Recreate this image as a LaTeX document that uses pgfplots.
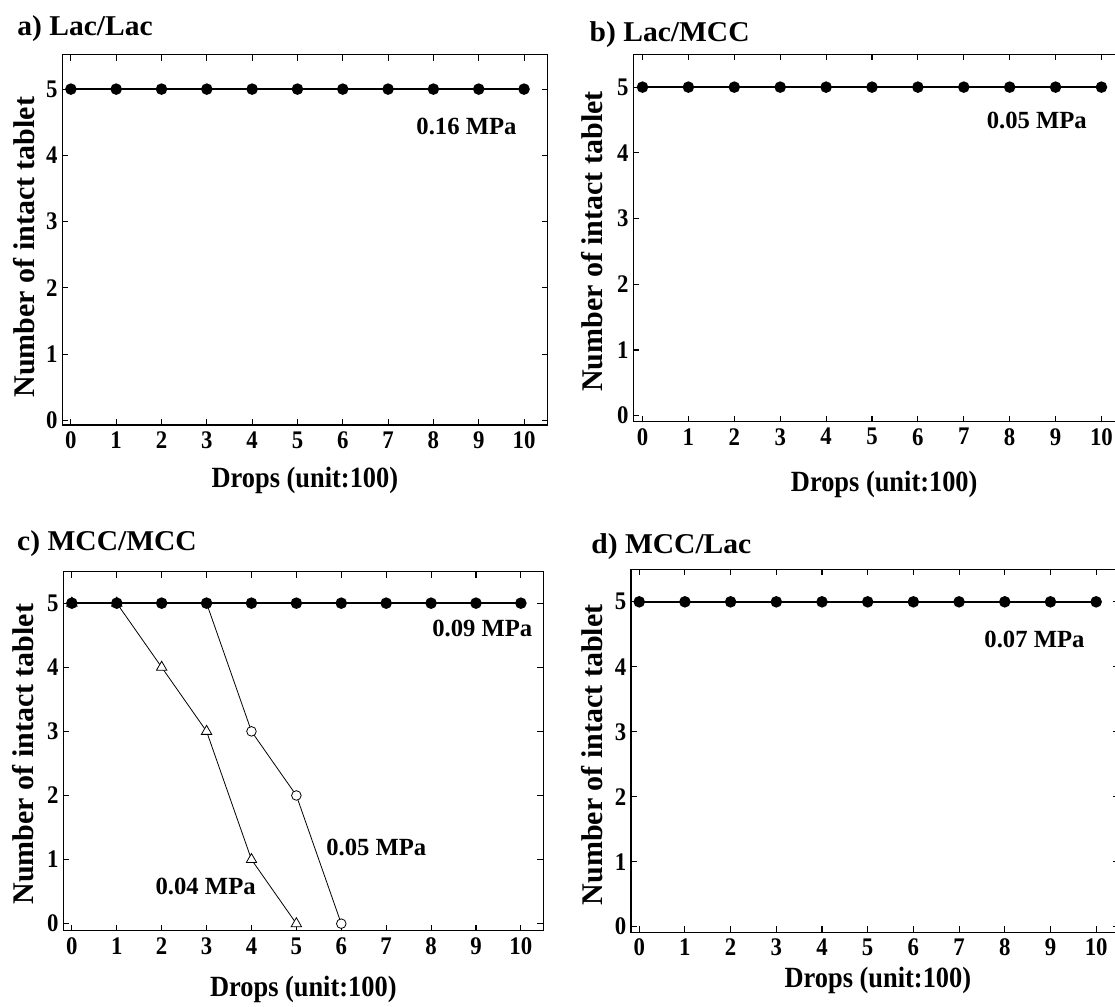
\documentclass[border=0pt]{standalone}
\usepackage{fontspec}
\setmainfont{Liberation Serif}
\newfontfamily\cfont{Liberation Serif}[FakeStretch=0.9]
\newfontfamily\tfont{Liberation Serif}[FakeStretch=1.03]
\usepackage{pgfplots}
\pgfplotsset{compat=1.18}

\pgfplotsset{
  panel/.style={
    scale only axis,
    axis line style={line width=0.9pt},
    every tick/.style={black, line width=0.8pt},
    tick align=inside,
    major tick length=4.5pt,
    xtick={0,1,...,10},
    ytick={0,1,...,5},
    /pgf/number format/assume math mode=true,
    ticklabel style={font=\cfont\bfseries\fontsize{19}{20}\selectfont},
    xticklabel style={yshift=-1.5pt},
    xlabel={Drops (unit:100)},
    ylabel={Number of intact tablet},
    xlabel style={font=\cfont\bfseries\fontsize{22}{24}\selectfont, anchor=base},
    ylabel style={font=\bfseries\fontsize{22.5}{24}\selectfont, anchor=center},
    clip=false,
  },
  fdot/.style={black, line width=1.2pt, mark=*, mark size=3.7pt, mark options={solid, fill=black}},
  odot/.style={black, line width=0.6pt, mark=*, mark size=3.6pt, mark options={solid, fill=white, line width=0.6pt}},
  otri/.style={black, line width=0.6pt, mark=triangle*, mark size=4.5pt, mark options={solid, fill=white, line width=0.6pt}},
}
\tikzset{ann/.style={font=\bfseries\fontsize{18.5}{20}\selectfont},
  ttl/.style={anchor=base west, font=\tfont\bfseries\fontsize{21.5}{23}\selectfont}}

\begin{document}
\begin{tikzpicture}
% panel a
\begin{axis}[panel, at={(46.7pt,-41.0pt)}, anchor=north west,
  width=364pt, height=277.7pt,
  xmin=-0.19, xmax=10.52, ymin=-0.07, ymax=5.52,
  xlabel style={at={(axis description cs:0.5,-0.170)}},
  ylabel style={at={(axis description cs:-0.078,0.48)}}]
\addplot[fdot] coordinates {(0,5)(1,5)(2,5)(3,5)(4,5)(5,5)(6,5)(7,5)(8,5)(9,5)(10,5)};
\node[ann] at (axis cs:8.73,4.43) {0.16 MPa};
\end{axis}
% panel b
\begin{axis}[panel, at={(475pt,-40.7pt)}, anchor=north west,
  width=369pt, height=275.5pt,
  xmin=-0.2, xmax=10.52, ymin=-0.09, ymax=5.5,
  xlabel style={at={(axis description cs:0.51,-0.19)}},
  ylabel style={at={(axis description cs:-0.083,0.49)}}]
\addplot[fdot] coordinates {(0,5)(1,5)(2,5)(3,5)(4,5)(5,5)(6,5)(7,5)(8,5)(9,5)(10,5)};
\node[ann] at (axis cs:8.59,4.49) {0.05 MPa};
\end{axis}
% panel c
\begin{axis}[panel, at={(47.5pt,-428.8pt)}, anchor=north west,
  width=360pt, height=269.25pt,
  xmin=-0.19, xmax=10.5, ymin=-0.11, ymax=5.49,
  xlabel style={at={(axis description cs:0.5,-0.184)}},
  ylabel style={at={(axis description cs:-0.083,0.492)}}]
\addplot[otri] coordinates {(0,5)(1,5)(2,4)(3,3)(4,1)(5,0)};
\addplot[odot] coordinates {(0,5)(1,5)(2,5)(3,5)(4,3)(5,2)(6,0)};
\addplot[fdot] coordinates {(0,5)(1,5)(2,5)(3,5)(4,5)(5,5)(6,5)(7,5)(8,5)(9,5)(10,5)};
\node[ann] at (axis cs:9.14,4.6) {0.09 MPa};
\node[ann] at (axis cs:6.78,1.19) {0.05 MPa};
\node[ann] at (axis cs:2.98,0.58) {0.04 MPa};
\end{axis}
% panel d
\begin{axis}[panel, at={(473.25pt,-427.0pt)}, anchor=north west,
  width=366pt, height=272.2pt,
  xmin=-0.18, xmax=10.5, ymin=-0.086, ymax=5.5,
  xlabel style={at={(axis description cs:0.506,-0.152)}},
  ylabel style={at={(axis description cs:-0.08,0.489)}}]
\addplot[fdot] coordinates {(0,5)(1,5)(2,5)(3,5)(4,5)(5,5)(6,5)(7,5)(8,5)(9,5)(10,5)};
\node[ann] at (axis cs:8.65,4.42) {0.07 MPa};
\end{axis}
% panel titles
\node[ttl] at (9.5pt,-26.25pt) {a) Lac/Lac};
\node[ttl] at (438.75pt,-31.3pt) {b) Lac/MCC};
\node[ttl] at (9.4pt,-412.5pt) {c) MCC/MCC};
\node[ttl] at (440pt,-415pt) {d) MCC/Lac};
\pgfresetboundingbox
\path[use as bounding box] (0pt,0pt) rectangle (836.25pt,-755.25pt);
\end{tikzpicture}
\end{document}
